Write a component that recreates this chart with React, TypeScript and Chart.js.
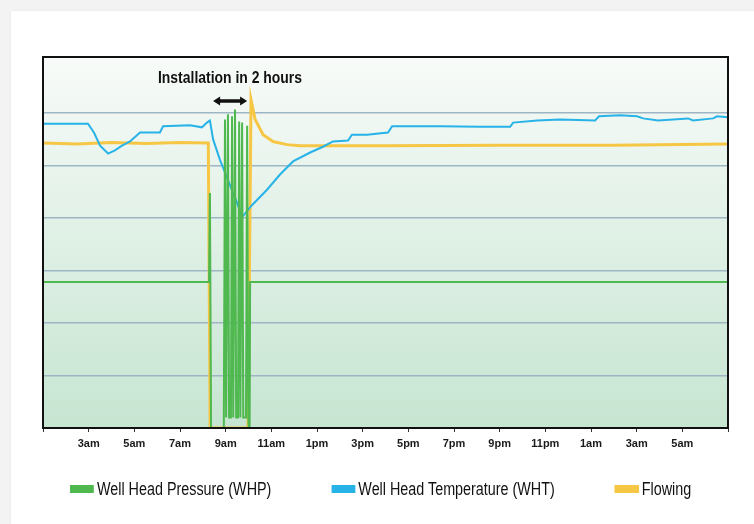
import React, { useEffect, useRef } from "react";
import { Chart, registerables } from "chart.js";

Chart.register(...registerables);

// ---- data (hours since 1am, arbitrary vertical units) ----
const tickLabels = ["", "3am", "5am", "7am", "9am", "11am", "1pm", "3pm", "5pm", "7pm", "9pm", "11pm", "1am", "3am", "5am", ""];
const seriesNames = ["Well Head Pressure (WHP)", "Well Head Temperature (WHT)", "Flowing"];
const seriesColors = ["#4fb84f", "#27b3e8", "#f6c645"];

const whpHours = [0, 7.27, 7.31, 7.36, 7.9, 7.92, 7.97, 8.02, 8.05, 8.1, 8.15, 8.23, 8.28, 8.33, 8.36, 8.41, 8.46, 8.54, 8.59, 8.64, 8.67, 8.72, 8.77, 8.89, 8.94, 8.99, 9.01, 9.05, 9.07, 30];
const whpValues = [2.78, 2.78, 4.48, 0, 0, 0.2, 5.88, 0.2, 0.2, 5.98, 0.2, 0.2, 5.94, 0.2, 0.2, 6.07, 0.2, 0.2, 5.84, 0.2, 0.2, 5.82, 0.2, 0.2, 5.76, 0.2, 0, 0, 2.78, 2.78];

const whtHours = [0, 1.97, 2.23, 2.5, 2.85, 3.15, 3.46, 3.81, 4.25, 5.12, 5.26, 6.44, 6.96, 7.18, 7.31, 7.45, 7.75, 8.1, 8.5, 8.72, 9.16, 9.81, 10.38, 10.95, 11.7, 12.26, 12.7, 13.36, 13.53, 14.19, 15.11, 15.29, 17.39, 19.14, 20.46, 20.59, 21.64, 22.65, 24.18, 24.35, 25.27, 26.02, 26.28, 26.94, 28.25, 28.47, 29.35, 29.52, 30];
const whtValues = [5.8, 5.8, 5.63, 5.38, 5.23, 5.29, 5.38, 5.46, 5.63, 5.63, 5.75, 5.77, 5.73, 5.82, 5.86, 5.5, 5.11, 4.73, 4.29, 4.02, 4.25, 4.54, 4.83, 5.08, 5.25, 5.36, 5.46, 5.48, 5.59, 5.59, 5.63, 5.75, 5.75, 5.74, 5.74, 5.82, 5.86, 5.88, 5.86, 5.94, 5.96, 5.94, 5.9, 5.86, 5.9, 5.86, 5.9, 5.94, 5.92];

const flowHours = [0, 1.5, 3.0, 4.5, 6.0, 7.2, 7.24, 7.32, 8.98, 9.11, 9.29, 9.64, 10.07, 10.69, 11.26, 15, 20, 25, 30];
const flowValues = [5.43, 5.41, 5.44, 5.42, 5.44, 5.43, 5.43, 0, 0, 6.26, 5.88, 5.59, 5.46, 5.4, 5.38, 5.38, 5.39, 5.39, 5.41];

const annotationText = "Installation in 2 hours";
const annotationStart = 7.45;
const annotationEnd = 8.94;
const annotationArrowLevel = 6.23;
const annotationTextLevel = 6.66;
const annotationTextCenter = 8.19;

const FONT = '"Liberation Sans", Arial, sans-serif';
const NARROW = 0.82;

const toPoints = (xs: number[], ys: number[]) => xs.map((x, i) => ({ x, y: ys[i] }));

const backgroundPlugin = {
  id: "plotBackground",
  beforeDraw(chart: any) {
    const { ctx, chartArea: a } = chart;
    const g = ctx.createLinearGradient(0, a.top, 0, a.bottom);
    g.addColorStop(0, "#f8fbf9");
    g.addColorStop(1, "#c6e5d1");
    ctx.save();
    ctx.fillStyle = g;
    ctx.fillRect(a.left, a.top, a.right - a.left, a.bottom - a.top);
    ctx.restore();
  },
};

const framePlugin = {
  id: "frameAndNote",
  afterDraw(chart: any) {
    const { ctx, chartArea: a, scales } = chart;
    ctx.save();
    ctx.strokeStyle = "#111";
    ctx.lineWidth = 2;
    ctx.strokeRect(a.left, a.top, a.right - a.left, a.bottom - a.top);

    const xs = scales.x;
    const ys = scales.y;
    // annotation text (condensed look)
    const tx = xs.getPixelForValue(annotationTextCenter);
    const ty = ys.getPixelForValue(annotationTextLevel);
    ctx.save();
    ctx.translate(tx, ty);
    ctx.scale(NARROW, 1);
    ctx.fillStyle = "#111";
    ctx.font = `bold 17px ${FONT}`;
    ctx.textAlign = "center";
    ctx.textBaseline = "middle";
    ctx.fillText(annotationText, 0, 0);
    ctx.restore();

    // double arrow
    const x1 = xs.getPixelForValue(annotationStart);
    const x2 = xs.getPixelForValue(annotationEnd);
    const y = ys.getPixelForValue(annotationArrowLevel);
    ctx.strokeStyle = "#111";
    ctx.fillStyle = "#111";
    ctx.lineWidth = 3.5;
    ctx.lineCap = "round";
    ctx.beginPath();
    ctx.moveTo(x1 + 4, y);
    ctx.lineTo(x2 - 4, y);
    ctx.stroke();
    ctx.beginPath();
    ctx.moveTo(x1, y);
    ctx.lineTo(x1 + 7, y - 4.5);
    ctx.lineTo(x1 + 7, y + 4.5);
    ctx.closePath();
    ctx.moveTo(x2, y);
    ctx.lineTo(x2 - 7, y - 4.5);
    ctx.lineTo(x2 - 7, y + 4.5);
    ctx.closePath();
    ctx.fill();
    ctx.restore();
  },
};

export default function App() {
  const canvasRef = useRef<HTMLCanvasElement | null>(null);

  useEffect(() => {
    const canvas = canvasRef.current;
    if (!canvas) return;
    const chart = new Chart(canvas, {
      type: "line",
      data: {
        datasets: [
          {
            label: seriesNames[0],
            data: toPoints(whpHours, whpValues),
            borderColor: seriesColors[0],
            backgroundColor: seriesColors[0],
            borderWidth: 2,
            pointRadius: 0,
            tension: 0,
          },
          {
            label: seriesNames[1],
            data: toPoints(whtHours, whtValues),
            borderColor: seriesColors[1],
            backgroundColor: seriesColors[1],
            borderWidth: 2,
            pointRadius: 0,
            tension: 0,
          },
          {
            label: seriesNames[2],
            data: toPoints(flowHours, flowValues),
            borderColor: seriesColors[2],
            backgroundColor: seriesColors[2],
            borderWidth: 3,
            pointRadius: 0,
            tension: 0,
          },
        ],
      },
      options: {
        responsive: false,
        animation: false,
        events: [],
        layout: { padding: { left: 43, right: 26, top: 57, bottom: 72 } },
        plugins: {
          legend: { display: false },
          tooltip: { enabled: false },
        },
        scales: {
          x: {
            type: "linear",
            min: 0,
            max: 30,
            afterFit: (s: any) => {
              s.height = 24;
            },
            border: { display: false },
            grid: { drawOnChartArea: false, drawTicks: true, tickLength: 4, color: "#333", lineWidth: 1 },
            ticks: {
              stepSize: 2,
              autoSkip: false,
              maxRotation: 0,
              padding: 5,
              color: "#1a1a1a",
              font: { family: FONT, size: 11, weight: "bold" },
              callback: (v: any) => tickLabels[Math.round(Number(v) / 2)] ?? "",
            },
          },
          y: {
            min: 0,
            max: 7.07,
            border: { display: false },
            grid: {
              drawTicks: false,
              lineWidth: 1.5,
              color: (c: any) => (c.tick && c.tick.value >= 1 && c.tick.value <= 6 ? "#9db6c3" : "rgba(0,0,0,0)"),
            },
            ticks: { display: false, stepSize: 1 },
          },
        },
      },
      plugins: [backgroundPlugin, framePlugin],
    });
    return () => chart.destroy();
  }, []);

  return (
    <div style={{ position: "fixed", left: 0, top: 0, width: 754, height: 524, background: "#f3f3f3", overflow: "hidden" }}>
      <div style={{ position: "absolute", left: 11, top: 11, right: 0, bottom: 0, background: "#ffffff", boxShadow: "0 0 3px rgba(0,0,0,0.06)" }} />
      <canvas ref={canvasRef} width={754} height={524} style={{ position: "absolute", left: 0, top: 0, width: 754, height: 524 }} />
      <div
        style={{
          position: "absolute",
          left: 70,
          top: 479,
          display: "flex",
          alignItems: "center",
          gap: 60 / NARROW,
          fontFamily: FONT,
          fontSize: 17.5,
          lineHeight: "20px",
          color: "#111",
          whiteSpace: "nowrap",
          transform: `scaleX(${NARROW})`,
          transformOrigin: "0 50%",
        }}
      >
        {seriesNames.map((name, i) => (
          <div key={name} style={{ display: "flex", alignItems: "center" }}>
            <span style={{ display: "inline-block", width: 24 / NARROW, height: 8, background: seriesColors[i], marginRight: 3 / NARROW }} />
            <span>{name}</span>
          </div>
        ))}
      </div>
    </div>
  );
}
